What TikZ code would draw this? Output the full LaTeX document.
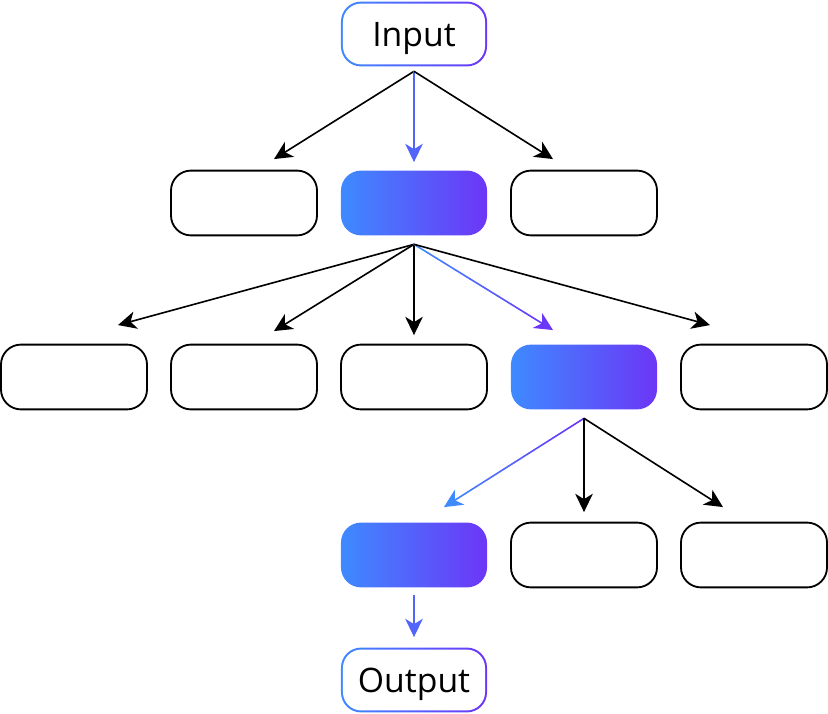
\documentclass[tikz,border=0pt]{standalone}
\usepackage{fontspec}
\setmainfont{Open Sans}
\usetikzlibrary{arrows.meta,calc}

\definecolor{gblue}{RGB}{62,138,255}
\definecolor{gpurple}{RGB}{108,54,246}
\colorlet{gmid}{gblue!55!gpurple}

\tikzset{
  box/.style={draw, line width=1.3pt, rounded corners=0.5cm, minimum width=3.65cm,
    minimum height=1.62cm, inner sep=0pt},
  hot/.style={box, draw=none, left color=gblue, right color=gpurple},
  io/.style={box, draw=none, left color=gblue, right color=gpurple,
    font=\fontsize{24}{28}\selectfont, text depth=0pt,
    path picture={\fill[white, rounded corners=0.46cm]
      ([shift={(1.4pt,1.4pt)}]path picture bounding box.south west) rectangle
      ([shift={(-1.4pt,-1.4pt)}]path picture bounding box.north east);}},
}

% arrow with a colour run: from, to, start colour, end colour
\newcommand{\gradarrow}[4]{%
  \foreach \k in {0,...,8}{
    \pgfmathtruncatemacro{\mix}{100-\k*11}
    \draw[#3!\mix!#4, line cap=round] ($(#1)!0.1*\k!(#2)$) -- ($(#1)!0.1*\k+0.1!(#2)$);
  }
  \draw[->, #4] ($(#1)!0.9!(#2)$) -- (#2);
}

\begin{document}
\begin{tikzpicture}[x=0.025cm, y=-0.025cm, line width=1.15pt,
  >={Stealth[length=13pt, width=12.5pt, inset=3.8pt]}]
  \useasboundingbox (0,0) rectangle (828,714);

  % Input and output
  \node[io] (in) at (414,34) {Input};
  \node[io] (out) at (414,680) {Output};

  % First row
  \node[box] (b1a) at (244,203) {};
  \node[hot] (b1b) at (414,203) {};
  \node[box] (b1c) at (584,203) {};

  % Second row
  \node[box] (b2a) at (74,377) {};
  \node[box] (b2b) at (244,377) {};
  \node[box] (b2c) at (414,377) {};
  \node[hot] (b2d) at (584,377) {};
  \node[box] (b2e) at (754,377) {};

  % Third row
  \node[hot] (b3a) at (414,555) {};
  \node[box] (b3b) at (584,555) {};
  \node[box] (b3c) at (754,555) {};

  % Arrow starts
  \coordinate (s0) at ($(in.south)+(0,4)$);
  \coordinate (s1) at ($(b1b.south)+(0,8)$);
  \coordinate (s2) at ($(b2d.south)+(0,8)$);
  \coordinate (s3) at ($(b3a.south)+(0,7)$);

  % Arrow tips
  \coordinate (t1a) at ($(b1a.north)+(30,-10.6)$);
  \coordinate (t1b) at ($(b1b.north)+(0,-7.6)$);
  \coordinate (t1c) at ($(b1c.north)+(-31,-10.6)$);
  \coordinate (t2a) at ($(b2a.north)+(44,-18.6)$);
  \coordinate (t2b) at ($(b2b.north)+(30,-12.6)$);
  \coordinate (t2c) at ($(b2c.north)+(0,-8.6)$);
  \coordinate (t2d) at ($(b2d.north)+(-31,-13.6)$);
  \coordinate (t2e) at ($(b2e.north)+(-44,-18.6)$);
  \coordinate (t3a) at ($(b3a.north)+(30,-14.6)$);
  \coordinate (t3b) at ($(b3b.north)+(0,-9.6)$);
  \coordinate (t3c) at ($(b3c.north)+(-31,-14.6)$);
  \coordinate (t4) at ($(out.north)+(0,-9.6)$);

  % Arrows
  \draw[->] (s0) -- (t1a);
  \draw[->, gmid] (s0) -- (t1b);
  \draw[->] (s0) -- (t1c);

  \draw[->] (s1) -- (t2a);
  \draw[->] (s1) -- (t2b);
  \draw[->] (s1) -- (t2c);
  \gradarrow{s1}{t2d}{gblue}{gpurple}
  \draw[->] (s1) -- (t2e);

  \gradarrow{s2}{t3a}{gpurple}{gblue}
  \draw[->] (s2) -- (t3b);
  \draw[->] (s2) -- (t3c);

  \draw[->, gmid] (s3) -- (t4);
\end{tikzpicture}
\end{document}
